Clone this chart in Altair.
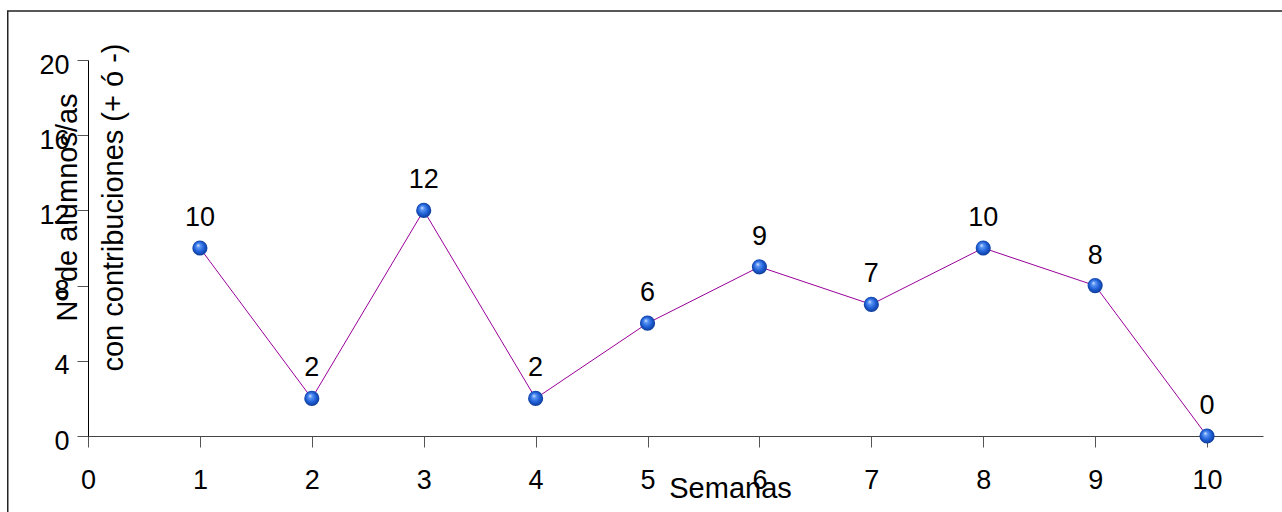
import altair as alt
import pandas as pd

# Weekly count of students with contributions
semanas = [1, 2, 3, 4, 5, 6, 7, 8, 9, 10]
alumnos = [10, 2, 12, 2, 6, 9, 7, 10, 8, 0]

x_ticks = [0, 1, 2, 3, 4, 5, 6, 7, 8, 9, 10]
y_ticks = [0, 2, 4, 6, 8, 10, 12, 14, 16, 18, 20]

df = pd.DataFrame({"semana": semanas, "n": alumnos})

FONT = "Liberation Sans"
FS = 27
TFS = 29

x_enc = alt.X(
    "semana:Q",
    scale=alt.Scale(domain=[0, 10.5], nice=False, zero=False),
    axis=alt.Axis(
        values=x_ticks,
        format="d",
        title="Semanas",
        titleX=642,
        titleY=61,
        titleAlign="center",
        titleBaseline="alphabetic",
        titleFont=FONT,
        titleFontSize=TFS,
        titleFontWeight="normal",
        titleColor="#000000",
        labelFont=FONT,
        labelFontSize=FS,
        labelColor="#000000",
        labelPadding=20,
        tickSize=11,
        tickColor="#555555",
        domainColor="#444444",
        grid=False,
        labelFlush=False,
        labelOverlap=False,
    ),
)

y_enc = alt.Y(
    "n:Q",
    scale=alt.Scale(domain=[0, 20], nice=False),
    axis=alt.Axis(
        values=y_ticks,
        labelExpr="datum.value % 4 == 0 ? datum.label : ''",
        title=["Nº de alumnos/as", "con contribuciones (+ ó -)"],
        titleAngle=270,
        titleX=-12,
        titleY=147,
        titleAlign="center",
        titleBaseline="alphabetic",
        titleLineHeight=46,
        titleFont=FONT,
        titleFontSize=TFS,
        titleFontWeight="normal",
        titleColor="#000000",
        labelFont=FONT,
        labelFontSize=FS,
        labelColor="#000000",
        labelPadding=8,
        labelOffset=5,
        tickSize=11,
        tickColor="#555555",
        domainColor="#000000",
        grid=False,
        labelOverlap=False,
    ),
)

base = alt.Chart(df)

line = base.mark_line(color="#990099", strokeWidth=1).encode(x=x_enc, y=y_enc)

sphere = alt.Gradient(
    gradient="radial",
    x1=0.38, y1=0.32, r1=0,
    x2=0.5, y2=0.5, r2=0.55,
    stops=[
        alt.GradientStop(offset=0, color="#e6f0ff"),
        alt.GradientStop(offset=0.22, color="#5c97f5"),
        alt.GradientStop(offset=0.6, color="#1f5fd6"),
        alt.GradientStop(offset=1, color="#0a348a"),
    ],
)

points = base.mark_point(
    shape="circle", filled=True, size=230, fill=sphere, opacity=1, strokeWidth=0
).encode(x="semana:Q", y="n:Q")

labels = base.mark_text(
    font=FONT, fontSize=FS, color="#000000", baseline="alphabetic", align="center", dy=-22
).encode(x="semana:Q", y="n:Q", text="n:Q")

frame = alt.Chart(pd.DataFrame({"k": [0]})).mark_rect(
    fill="transparent", stroke="#222222", strokeWidth=1.5
).encode(
    x=alt.value(-80.25),
    x2=alt.value(1300),
    y=alt.value(-49),
    y2=alt.value(600),
)

chart = (
    alt.layer(frame, line, points, labels)
    .properties(
        width=1175,
        height=376,
        autosize=alt.AutoSizeParams(type="none"),
        padding={"left": 88, "top": 60, "right": 19, "bottom": 76},
        background="#ffffff",
    )
    .configure_view(stroke=None)
)

chart.save("out.html", embed_options={"renderer": "svg", "actions": False})
